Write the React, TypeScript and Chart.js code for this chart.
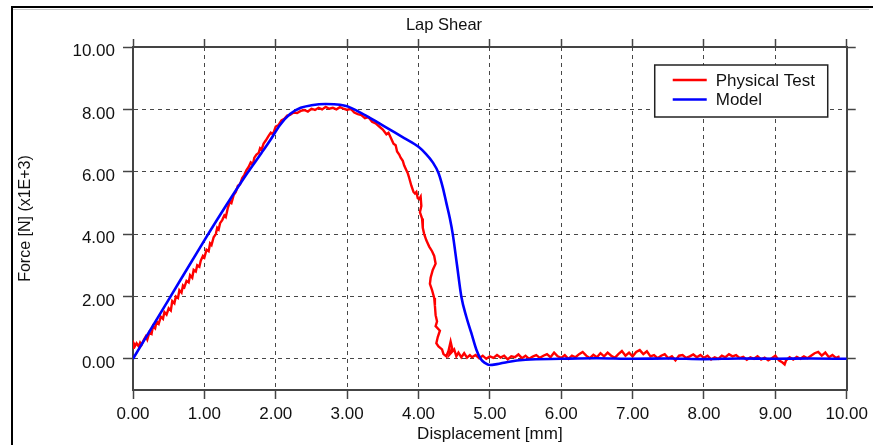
import React, { useEffect, useRef } from 'react';
import { Chart, registerables } from 'chart.js';

Chart.register(...registerables);

// ---------- text ----------
const chartTitle = 'Lap Shear';
const xAxisTitle = 'Displacement [mm]';
const yAxisTitle = 'Force [N] (x1E+3)';
const seriesNames = ['Physical Test', 'Model'];
const seriesColors = ['#ff0000', '#0000ff'];

// ---------- axes ----------
const xRange = [0, 10];
const xTickValues = [0, 1, 2, 3, 4, 5, 6, 7, 8, 9, 10];
const yRange = [-1, 10];
const yTickValues = [0, 2, 4, 6, 8, 10];

// ---------- data ----------
// Model (blue)
const modelX = [
  0, 0.5, 1.0, 1.3, 1.6, 1.8, 1.92, 2.06, 2.2, 2.35, 2.5, 2.7, 2.9, 3.0, 3.2, 3.4, 3.6, 3.8, 4.0,
  4.1, 4.2, 4.28, 4.34, 4.39, 4.44, 4.48, 4.54, 4.6, 4.67, 4.74, 4.81, 4.87, 4.93, 5.0, 5.1, 5.25,
  5.5, 6.0, 6.5, 7.0, 7.5, 8.0, 8.5, 9.0, 9.5, 10.0,
];
const modelY = [
  0, 1.9, 3.8, 4.9, 5.95, 6.6, 7.0, 7.5, 7.85, 8.05, 8.13, 8.17, 8.15, 8.1, 7.88, 7.62, 7.35, 7.08, 6.8,
  6.58, 6.3, 5.96, 5.5, 5.0, 4.5, 4.0, 3.0, 2.0, 1.35, 0.83, 0.3, 0.0, -0.13, -0.2, -0.17, -0.1,
  -0.03, 0.0, 0.02, 0.0, 0.01, -0.01, 0.01, 0.0, 0.01, 0.0,
];

// Physical test (red) – [displacement, force]
const testPoints: [number, number][] = [
  [0.0, 0.35], [0.01, 0.5], [0.03, 0.42], [0.05, 0.5], [0.08, 0.4], [0.1, 0.52], [0.12, 0.45], [0.15, 0.6],
  [0.18, 0.72], [0.2, 0.62], [0.23, 0.85], [0.26, 0.8], [0.28, 1.05], [0.31, 0.98], [0.33, 1.2], [0.36, 1.12],
  [0.39, 1.35], [0.42, 1.28], [0.44, 1.5], [0.47, 1.42], [0.5, 1.62], [0.53, 1.55], [0.55, 1.85], [0.58, 1.78],
  [0.6, 2.0], [0.63, 1.95], [0.65, 2.2], [0.68, 2.12], [0.7, 2.35], [0.72, 2.3], [0.75, 2.5], [0.78, 2.45],
  [0.8, 2.68], [0.83, 2.6], [0.85, 2.85], [0.88, 2.8], [0.9, 3.0], [0.93, 2.95], [0.95, 3.15], [0.98, 3.3],
  [1.0, 3.25], [1.03, 3.5], [1.06, 3.45], [1.08, 3.7], [1.1, 3.65], [1.13, 3.9], [1.16, 4.0], [1.18, 4.2],
  [1.2, 4.15], [1.22, 4.35], [1.25, 4.45], [1.28, 4.6], [1.3, 4.55], [1.33, 4.85], [1.36, 5.05], [1.38, 5.0],
  [1.41, 5.25], [1.44, 5.35], [1.47, 5.55], [1.5, 5.6], [1.53, 5.8], [1.56, 5.9], [1.59, 6.05], [1.62, 6.15],
  [1.65, 6.3], [1.68, 6.25], [1.7, 6.45], [1.73, 6.55], [1.76, 6.6], [1.78, 6.75], [1.8, 6.7], [1.83, 6.9],
  [1.86, 7.0], [1.9, 7.15], [1.93, 7.25], [1.96, 7.2], [2.0, 7.45], [2.04, 7.5], [2.08, 7.65], [2.12, 7.7],
  [2.16, 7.8], [2.2, 7.82], [2.25, 7.9], [2.3, 7.88], [2.35, 7.95], [2.4, 7.98], [2.45, 7.93], [2.5, 8.02],
  [2.55, 7.98], [2.6, 8.05], [2.65, 8.0], [2.7, 8.08], [2.75, 8.02], [2.8, 8.05], [2.85, 8.0], [2.9, 8.07],
  [2.95, 8.02], [3.0, 7.98], [3.05, 8.02], [3.1, 7.9], [3.15, 7.85], [3.2, 7.82], [3.25, 7.72], [3.3, 7.75],
  [3.35, 7.6], [3.4, 7.55], [3.45, 7.45], [3.5, 7.35], [3.55, 7.2], [3.58, 7.25], [3.62, 7.05], [3.65, 6.9],
  [3.68, 6.85], [3.7, 6.65], [3.73, 6.55], [3.75, 6.45], [3.78, 6.35], [3.8, 6.2], [3.83, 6.05], [3.85, 5.95],
  [3.87, 5.8], [3.9, 5.55], [3.93, 5.35], [3.95, 5.3], [3.97, 5.35], [3.99, 5.15], [4.01, 5.12], [4.03, 5.2],
  [4.04, 4.9], [4.02, 4.7], [4.05, 4.5], [4.06, 4.2], [4.08, 4.0], [4.11, 3.8], [4.15, 3.6], [4.19, 3.45],
  [4.22, 3.3], [4.24, 3.05], [4.2, 2.85], [4.17, 2.6], [4.16, 2.4], [4.19, 2.2], [4.22, 1.95], [4.23, 1.7],
  [4.24, 1.4], [4.26, 1.2], [4.24, 1.05], [4.3, 0.9], [4.27, 0.7], [4.25, 0.5], [4.28, 0.4], [4.33, 0.3],
  [4.35, 0.15], [4.39, 0.08], [4.42, 0.25], [4.45, 0.55], [4.47, 0.35], [4.44, 0.15], [4.5, 0.3], [4.53, 0.08],
  [4.56, 0.2], [4.6, 0.05], [4.64, 0.18], [4.68, 0.04], [4.72, 0.12], [4.75, 0.05], [4.8, 0.12], [4.85, 0.02],
  [4.9, 0.1], [4.95, 0.0], [5.0, 0.08], [5.05, 0.03], [5.1, 0.12], [5.15, 0.04], [5.2, 0.1], [5.25, -0.02],
  [5.3, 0.08], [5.35, 0.05], [5.4, 0.14], [5.45, 0.02], [5.5, 0.1], [5.55, 0.0], [5.6, 0.07], [5.65, 0.12],
  [5.7, 0.03], [5.75, 0.1], [5.8, 0.15], [5.85, 0.05], [5.9, 0.2], [5.95, 0.08], [6.0, 0.03], [6.05, 0.12],
  [6.1, 0.0], [6.15, 0.1], [6.2, 0.05], [6.25, 0.15], [6.3, 0.22], [6.35, 0.1], [6.4, 0.02], [6.45, 0.13],
  [6.5, 0.05], [6.55, 0.18], [6.6, 0.08], [6.65, 0.2], [6.7, 0.1], [6.75, 0.03], [6.8, 0.15], [6.85, 0.25],
  [6.9, 0.1], [6.95, 0.2], [7.0, 0.08], [7.05, 0.22], [7.1, 0.28], [7.15, 0.15], [7.2, 0.24], [7.25, 0.08],
  [7.3, 0.12], [7.35, 0.02], [7.4, 0.1], [7.45, 0.15], [7.5, 0.02], [7.55, 0.08], [7.6, -0.05], [7.65, 0.1],
  [7.7, 0.12], [7.75, 0.03], [7.8, 0.08], [7.85, 0.14], [7.9, 0.05], [7.95, 0.12], [8.0, 0.03], [8.05, 0.1],
  [8.1, -0.02], [8.15, 0.05], [8.2, 0.0], [8.25, 0.1], [8.3, 0.05], [8.35, 0.15], [8.4, 0.08], [8.45, 0.12],
  [8.5, 0.02], [8.55, 0.06], [8.6, -0.03], [8.65, 0.05], [8.7, 0.0], [8.75, 0.08], [8.8, -0.02], [8.85, 0.04],
  [8.9, -0.05], [8.95, 0.02], [9.0, 0.1], [9.05, -0.05], [9.1, -0.12], [9.13, -0.18], [9.15, -0.05], [9.2, 0.05],
  [9.25, -0.02], [9.3, 0.06], [9.35, 0.0], [9.4, 0.08], [9.45, 0.02], [9.5, 0.1], [9.55, 0.18], [9.6, 0.22],
  [9.65, 0.1], [9.7, 0.2], [9.75, 0.05], [9.8, 0.12], [9.85, 0.03], [9.9, 0.08],
];

// ---------- layout ----------
const W = 873;
const H = 445;
const AREA = { left: 133, top: 47, right: 847, bottom: 390 };
const PAD_LEFT = 15;
const PAD_TOP = 16;
const TITLE_SIZE = 16.5;
const FONT = '"Liberation Sans", Arial, sans-serif';
const TEXT = '#111';
const GRID = 'rgba(0,0,0,0.72)';
const AXIS = '#444';

const fmt = (v: number | string) => Number(v).toFixed(2);
const setTicks = (values: number[]) => (s: any) => {
  s.ticks = values.map((value) => ({ value }));
};

const boxLegend = {
  id: 'boxLegend',
  afterDraw(chart: any) {
    const { ctx, chartArea } = chart;
    const w = 173;
    const h = 52;
    const x = chartArea.right - 19 - w;
    const y = chartArea.top + 18;
    ctx.save();
    ctx.fillStyle = '#ffffff';
    ctx.fillRect(x, y, w, h);
    ctx.strokeStyle = '#222';
    ctx.lineWidth = 1.5;
    ctx.strokeRect(x, y, w, h);
    ctx.font = `17px ${FONT}`;
    ctx.textBaseline = 'middle';
    ctx.textAlign = 'left';
    seriesNames.forEach((name, i) => {
      const ly = y + 15 + i * 19.5;
      ctx.strokeStyle = seriesColors[i];
      ctx.lineWidth = 2.5;
      ctx.beginPath();
      ctx.moveTo(x + 18, ly);
      ctx.lineTo(x + 52, ly);
      ctx.stroke();
      ctx.fillStyle = TEXT;
      ctx.fillText(name, x + 61, ly + 1);
    });
    ctx.restore();
  },
};

export default function App() {
  const ref = useRef<HTMLCanvasElement | null>(null);

  useEffect(() => {
    if (!ref.current) return;
    const modelData = modelX.map((x, i) => ({ x, y: modelY[i] }));
    const testData = testPoints.map(([x, y]) => ({ x, y }));

    const tickFont = { family: FONT, size: 17 };

    const chart = new Chart(ref.current, {
      type: 'scatter',
      data: {
        datasets: [
          {
            label: seriesNames[1],
            data: modelData,
            showLine: true,
            borderColor: seriesColors[1],
            backgroundColor: seriesColors[1],
            borderWidth: 2.6,
            pointRadius: 0,
            cubicInterpolationMode: 'monotone',
          },
          {
            label: seriesNames[0],
            data: testData,
            showLine: true,
            borderColor: seriesColors[0],
            backgroundColor: seriesColors[0],
            borderWidth: 2.4,
            pointRadius: 0,
            tension: 0,
          },
        ],
      },
      options: {
        responsive: false,
        maintainAspectRatio: false,
        animation: false,
        events: [],
        layout: { padding: { left: PAD_LEFT, top: PAD_TOP, right: 0, bottom: 0 } },
        plugins: {
          legend: { display: false },
          tooltip: { enabled: false },
          title: {
            display: true,
            text: chartTitle,
            color: TEXT,
            font: { family: FONT, size: TITLE_SIZE, weight: 'normal' },
            padding: 0,
          },
        },
        scales: {
          x: {
            type: 'linear',
            position: 'bottom',
            bounds: 'data',
            min: xRange[0],
            max: xRange[1],
            afterBuildTicks: setTicks(xTickValues),
            afterFit: (s: any) => { s.height = H - AREA.bottom; },
            ticks: {
              callback: (v: any) => fmt(v),
              font: tickFont,
              color: TEXT,
              padding: 5,
              maxRotation: 0,
              autoSkip: false,
            },
            grid: { color: GRID, lineWidth: 1, tickLength: 9, tickColor: AXIS, tickWidth: 1.5 },
            border: { display: true, color: AXIS, width: 2, dash: [4, 4] },
            title: { display: true, text: xAxisTitle, color: TEXT, font: { family: FONT, size: 17 }, padding: 0 },
          },
          x2: {
            type: 'linear',
            position: 'top',
            bounds: 'data',
            min: xRange[0],
            max: xRange[1],
            afterBuildTicks: setTicks(xTickValues),
            afterFit: (s: any) => { s.height = AREA.top - PAD_TOP - TITLE_SIZE * 1.2; },
            ticks: { display: false },
            grid: { drawOnChartArea: false, tickLength: 8, tickColor: AXIS, tickWidth: 1.5 },
            border: { display: true, color: AXIS, width: 2 },
          },
          y: {
            type: 'linear',
            position: 'left',
            bounds: 'data',
            min: yRange[0],
            max: yRange[1],
            afterBuildTicks: setTicks(yTickValues),
            afterFit: (s: any) => { s.width = AREA.left - PAD_LEFT; },
            ticks: {
              callback: (v: any) => fmt(v),
              font: tickFont,
              color: TEXT,
              padding: 8,
              labelOffset: 4.5,
            },
            grid: { color: GRID, lineWidth: 1, tickLength: 10, tickColor: AXIS, tickWidth: 1.5 },
            border: { display: true, color: AXIS, width: 2, dash: [4, 4] },
            title: { display: true, text: yAxisTitle, color: TEXT, font: { family: FONT, size: 16 }, padding: { top: 0.5, bottom: 0 } },
          },
          y2: {
            type: 'linear',
            position: 'right',
            bounds: 'data',
            min: yRange[0],
            max: yRange[1],
            afterBuildTicks: setTicks(yTickValues),
            afterFit: (s: any) => { s.width = W - AREA.right; },
            ticks: { display: false },
            grid: { drawOnChartArea: false, tickLength: 9, tickColor: AXIS, tickWidth: 1.5 },
            border: { display: true, color: AXIS, width: 2 },
          },
        },
      } as any,
      plugins: [boxLegend],
    });
    return () => chart.destroy();
  }, []);

  return (
    <div style={{ position: 'fixed', left: 0, top: 0, width: W, height: H, background: '#fff', overflow: 'hidden' }}>
      <canvas ref={ref} width={W} height={H} style={{ display: 'block', width: W, height: H }} />
      <div
        style={{
          position: 'absolute', left: 11, top: 6, width: W, height: H,
          borderLeft: '2px solid #000', borderTop: '2px solid #000', pointerEvents: 'none',
        }}
      />
      <div style={{ position: 'absolute', left: 13, top: 9, width: 856, height: 1, background: '#c8c8c8', pointerEvents: 'none' }} />
    </div>
  );
}
